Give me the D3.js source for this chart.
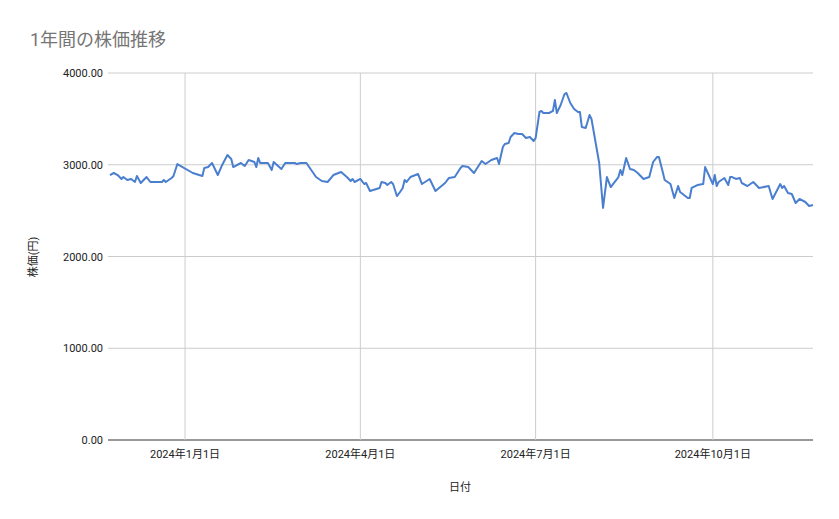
<!DOCTYPE html><html><head><meta charset="utf-8"><script src="https://cdn.jsdelivr.net/npm/d3@7"></script>
<style>body{margin:0;background:#fff;font-family:Roboto,"Noto Sans CJK JP",sans-serif}</style></head><body><svg id="c" width="839" height="519"></svg>
<script>
const dates=["2023-11-23","2023-11-25","2023-11-27","2023-11-29","2023-11-30","2023-12-02","2023-12-04","2023-12-06","2023-12-07","2023-12-09","2023-12-12","2023-12-14","2023-12-20","2023-12-21","2023-12-22","2023-12-25","2023-12-26","2023-12-28","2024-01-05","2024-01-10","2024-01-11","2024-01-13","2024-01-15","2024-01-18","2024-01-20","2024-01-23","2024-01-25","2024-01-26","2024-01-30","2024-02-01","2024-02-03","2024-02-06","2024-02-07","2024-02-08","2024-02-09","2024-02-13","2024-02-15","2024-02-16","2024-02-20","2024-02-22","2024-02-27","2024-02-28","2024-03-01","2024-03-04","2024-03-09","2024-03-12","2024-03-15","2024-03-18","2024-03-22","2024-03-25","2024-03-27","2024-03-28","2024-03-29","2024-04-01","2024-04-03","2024-04-04","2024-04-06","2024-04-11","2024-04-12","2024-04-14","2024-04-15","2024-04-17","2024-04-18","2024-04-20","2024-04-22","2024-04-23","2024-04-24","2024-04-25","2024-04-27","2024-05-01","2024-05-03","2024-05-07","2024-05-10","2024-05-15","2024-05-17","2024-05-20","2024-05-23","2024-05-24","2024-05-27","2024-05-30","2024-06-03","2024-06-05","2024-06-08","2024-06-11","2024-06-12","2024-06-14","2024-06-15","2024-06-17","2024-06-18","2024-06-20","2024-06-22","2024-06-24","2024-06-26","2024-06-28","2024-06-30","2024-07-01","2024-07-03","2024-07-04","2024-07-05","2024-07-08","2024-07-10","2024-07-11","2024-07-12","2024-07-14","2024-07-16","2024-07-17","2024-07-19","2024-07-21","2024-07-23","2024-07-24","2024-07-25","2024-07-27","2024-07-29","2024-07-30","2024-08-03","2024-08-05","2024-08-07","2024-08-09","2024-08-13","2024-08-14","2024-08-15","2024-08-17","2024-08-19","2024-08-21","2024-08-23","2024-08-24","2024-08-26","2024-08-29","2024-08-31","2024-09-02","2024-09-03","2024-09-05","2024-09-06","2024-09-09","2024-09-11","2024-09-13","2024-09-14","2024-09-18","2024-09-19","2024-09-20","2024-09-23","2024-09-26","2024-09-27","2024-10-01","2024-10-02","2024-10-03","2024-10-04","2024-10-07","2024-10-09","2024-10-10","2024-10-11","2024-10-13","2024-10-15","2024-10-16","2024-10-19","2024-10-22","2024-10-25","2024-10-30","2024-11-01","2024-11-05","2024-11-06","2024-11-07","2024-11-09","2024-11-11","2024-11-13","2024-11-15","2024-11-18","2024-11-20","2024-11-22"];
const prices=[2888,2910,2888,2845,2866,2834,2845,2812,2877,2801,2866,2812,2812,2834,2812,2856,2877,3008,2910,2877,2965,2975,3019,2888,2986,3106,3063,2975,3019,2986,3052,3030,2975,3074,3019,3019,2943,3030,2954,3019,3019,3008,3019,3019,2866,2823,2812,2888,2921,2866,2823,2845,2812,2845,2790,2801,2714,2747,2812,2801,2779,2812,2790,2659,2714,2747,2834,2812,2866,2899,2790,2845,2714,2801,2856,2866,2965,2986,2975,2910,3041,3008,3052,3074,3008,3193,3226,3237,3302,3346,3335,3335,3291,3302,3259,3291,3575,3586,3564,3564,3586,3706,3564,3651,3771,3782,3673,3608,3575,3575,3411,3400,3542,3499,3019,2529,2866,2757,2866,2943,2888,3074,2954,2943,2910,2888,2845,2866,3030,3084,3084,2921,2834,2790,2638,2768,2703,2638,2638,2747,2779,2790,2975,2790,2888,2768,2812,2856,2779,2866,2866,2845,2856,2801,2768,2812,2747,2768,2627,2790,2747,2768,2692,2681,2583,2627,2594,2550,2561];
const yTicks=[0,1000,2000,3000,4000];
const xTicks=["2024-01-01","2024-04-01","2024-07-01","2024-10-01"];
const P=d3.timeParse("%Y-%m-%d");
const data=dates.map((d,i)=>({d:P(d),v:prices[i]}));
const svg=d3.select("#c"),L=108,R=813,T=73,B=440;
const x=d3.scaleTime().domain([P("2023-11-22"),P("2024-11-22")]).range([L,R]);
const y=d3.scaleLinear().domain([0,4000]).range([B,T]);
svg.append("text").attr("x",30).attr("y",46).attr("fill","#757575").attr("font-size",18).text("1年間の株価推移");
const g=svg.append("g");
g.selectAll(".h").data(yTicks).join("line").attr("x1",L).attr("x2",R).attr("y1",d=>y(d)).attr("y2",d=>y(d)).attr("stroke",d=>d===0?"#333":"#ccc");
g.selectAll(".v").data(xTicks).join("line").attr("x1",d=>x(P(d))).attr("x2",d=>x(P(d))).attr("y1",T).attr("y2",B).attr("stroke","#ccc");
g.selectAll(".yl").data(yTicks).join("text").attr("x",L-5).attr("y",d=>y(d)+4).attr("text-anchor","end").attr("font-size",11).attr("fill","#222").text(d=>d3.format(".2f")(d));
g.selectAll(".xl").data(xTicks).join("text").attr("x",d=>x(P(d))).attr("y",458).attr("text-anchor","middle").attr("font-size",11).attr("fill","#222").text(d=>{const t=P(d);return `${t.getFullYear()}年${t.getMonth()+1}月${t.getDate()}日`;});
svg.append("path").datum(data).attr("fill","none").attr("stroke","#4a7fcf").attr("stroke-width",2).attr("stroke-linejoin","round").attr("d",d3.line().x(d=>x(d.d)).y(d=>y(d.v)));
svg.append("text").attr("x",460).attr("y",491).attr("text-anchor","middle").attr("font-size",11).attr("fill","#222").text("日付");
svg.append("text").attr("transform","translate(37,257) rotate(-90)").attr("text-anchor","middle").attr("font-size",11).attr("fill","#222").text("株価(円)");
</script></body></html>
